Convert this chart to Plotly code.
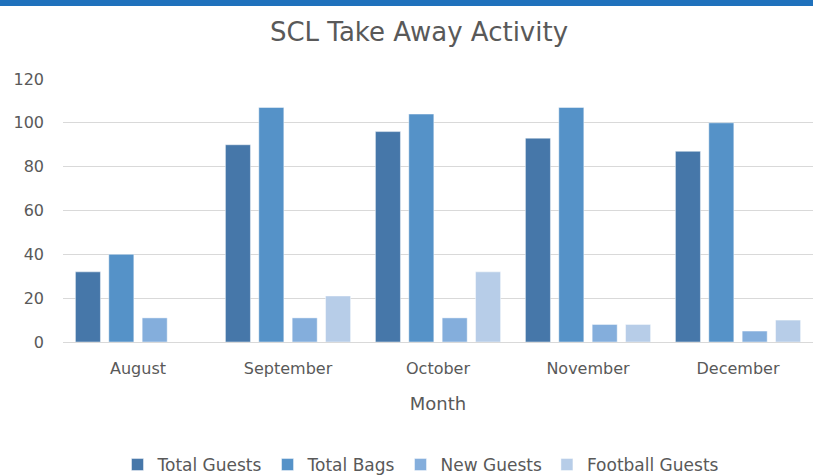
import plotly.graph_objects as go

months = ["August", "September", "October", "November", "December"]
total_guests = [32, 90, 96, 93, 87]
total_bags = [40, 107, 104, 107, 100]
new_guests = [11, 11, 11, 8, 5]
football_guests = [None, 21, 32, 8, 10]

series = [
    ("Total Guests", total_guests, "#4677A9"),
    ("Total Bags", total_bags, "#5592C8"),
    ("New Guests", new_guests, "#84AEDC"),
    ("Football Guests", football_guests, "#B7CDE8"),
]

W, H = 813, 476
ml, mr, mt, mb = 63, 0, 79, 134
ph = H - mt - mb
pw = W - ml - mr

fig = go.Figure()
for name, vals, col in series:
    fig.add_trace(go.Bar(
        name=name, x=months, y=vals,
        marker=dict(color=col, line=dict(color="rgba(255,255,255,0.45)", width=1)),
    ))

font = "DejaVu Sans, sans-serif"
grey = "#595959"
fig.update_layout(
    width=W, height=H,
    margin=dict(l=ml, r=mr, t=mt, b=mb, autoexpand=False),
    paper_bgcolor="white", plot_bgcolor="white",
    barmode="group", bargap=0.11, bargroupgap=0.25,
    font=dict(family=font, color=grey, size=16),
    title=dict(text="SCL Take Away Activity", x=(419 - ml) / pw, xanchor="center", xref="paper",
               y=1 - 32 / H, yanchor="middle",
               font=dict(size=26, color=grey, family=font)),
    xaxis=dict(showgrid=False, showline=True, linecolor="#D9D9D9", linewidth=1,
               ticks="", tickfont=dict(size=16, color=grey), ticklabelstandoff=12,
               title=dict(text="Month", standoff=20, font=dict(size=18, color=grey))),
    yaxis=dict(range=[0, 120], dtick=20, showgrid=True, gridcolor="#D9D9D9",
               gridwidth=1, zeroline=False, showline=False, ticks="",
               tickfont=dict(size=16, color=grey), ticklabelstandoff=18),
    legend=dict(orientation="h", x=(421 - ml) / pw, xanchor="center",
                y=-(465 - (H - mb)) / ph, yanchor="middle",
                font=dict(size=17, color=grey), itemwidth=30,
                traceorder="normal"),
    showlegend=True,
)

# blue band at top of the image
fig.add_shape(type="rect", xref="paper", yref="paper",
              x0=-ml / pw, x1=1 + mr / pw,
              y0=1 + (mt - 6) / ph, y1=1 + mt / ph,
              fillcolor="#1F71BC", line=dict(width=0), layer="above")

fig.write_html("out.html", config={"displayModeBar": False},
               post_script="document.body.style.margin='0px';document.body.style.padding='0px';")
